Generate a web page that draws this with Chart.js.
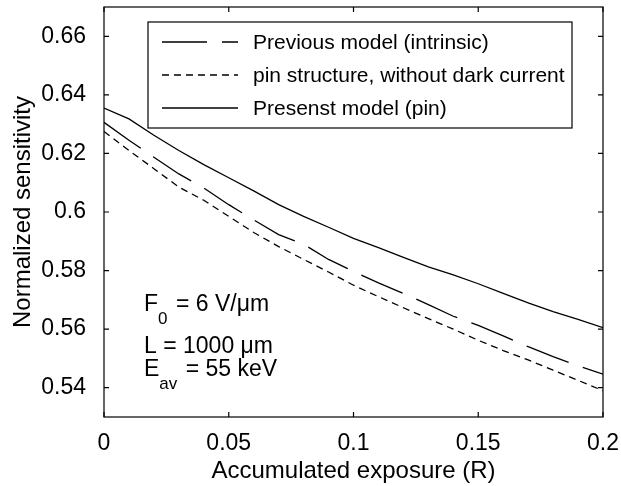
<!DOCTYPE html>
<html>
<head>
<meta charset="utf-8">
<script src="https://cdn.jsdelivr.net/npm/chart.js@4.4.0/dist/chart.umd.min.js"></script>
<style>
  html, body { margin: 0; padding: 0; background: #fff; }
  #wrap { width: 621px; height: 486px; }
</style>
</head>
<body>
<div id="wrap"><canvas id="sensCanvas" width="621" height="486"></canvas></div>
<script>
// values
const exposure = [0, 0.01, 0.02, 0.03, 0.04, 0.05, 0.06, 0.07, 0.08, 0.09, 0.10,
                  0.11, 0.12, 0.13, 0.14, 0.15, 0.16, 0.17, 0.18, 0.19, 0.20];
const previousModel = [0.6306, 0.6245, 0.6187, 0.6130, 0.6082, 0.6025, 0.5973, 0.5923, 0.5890, 0.5838, 0.5797,
                       0.5758, 0.5722, 0.5684, 0.5644, 0.5613, 0.5577, 0.5540, 0.5506, 0.5475, 0.5446];
const pinNoDark = [0.6275, 0.6210, 0.6148, 0.6085, 0.6040, 0.5985, 0.5930, 0.5882, 0.5838, 0.5795, 0.5750,
                   0.5711, 0.5673, 0.5636, 0.5600, 0.5562, 0.5527, 0.5495, 0.5460, 0.5425, 0.5390];
const presentModel = [0.6355, 0.6318, 0.6262, 0.6210, 0.6162, 0.6117, 0.6072, 0.6025, 0.5985, 0.5948, 0.5910,
                      0.5878, 0.5845, 0.5813, 0.5785, 0.5755, 0.5722, 0.5690, 0.5660, 0.5633, 0.5605];
const seriesLabels = ['Previous model (intrinsic)', 'pin structure, without dark current', 'Presenst model (pin)'];
const xTicks = [0, 0.05, 0.1, 0.15, 0.2];
const yTicks = [0.54, 0.56, 0.58, 0.6, 0.62, 0.64, 0.66];

const FONT = 'Liberation Sans, Arial, Helvetica, sans-serif';
Chart.defaults.font.family = FONT;
Chart.defaults.font.size = 23;
Chart.defaults.color = '#000';

function toPoints(ys) {
    return exposure.map((x, i) => ({ x: x, y: ys[i] }));
}

// frame, inward ticks, boxed legend and the parameter note
const matlabLook = {
    id: 'matlabLook',
    afterDatasetsDraw(chart) {
        const ctx = chart.ctx;
        const a = chart.chartArea;
        const xs = chart.scales.x, ys = chart.scales.y;
        ctx.save();
        ctx.strokeStyle = '#000';
        ctx.lineWidth = 1.2;
        ctx.setLineDash([]);
        ctx.strokeRect(a.left, a.top, a.right - a.left, a.bottom - a.top);

        ctx.beginPath();
        xTicks.forEach(v => {
            const px = xs.getPixelForValue(v);
            ctx.moveTo(px, a.bottom); ctx.lineTo(px, a.bottom - 5);
            ctx.moveTo(px, a.top); ctx.lineTo(px, a.top + 5);
        });
        yTicks.forEach(v => {
            const py = ys.getPixelForValue(v);
            ctx.moveTo(a.left, py); ctx.lineTo(a.left + 5, py);
            ctx.moveTo(a.right, py); ctx.lineTo(a.right - 5, py);
        });
        ctx.stroke();

        // legend
        const bx = 148, by = 22, bw = 424, bh = 106;
        ctx.fillStyle = '#fff';
        ctx.fillRect(bx, by, bw, bh);
        ctx.lineWidth = 1.2;
        ctx.strokeRect(bx, by, bw, bh);
        ctx.font = '21px ' + FONT;
        ctx.textBaseline = 'middle';
        ctx.fillStyle = '#000';
        chart.data.datasets.forEach((ds, i) => {
            const rowY = by + 20 + i * 33;
            ctx.beginPath();
            ctx.setLineDash(ds.borderDash || []);
            ctx.lineWidth = ds.borderWidth;
            ctx.moveTo(bx + 14, rowY);
            ctx.lineTo(bx + 90, rowY);
            ctx.stroke();
            ctx.setLineDash([]);
            ctx.fillText(ds.label, bx + 105, rowY + 1);
        });

        // parameter note
        ctx.textBaseline = 'alphabetic';
        const tx = 144;
        const lines = [
            { main: 'F', sub: '0', rest: ' = 6 V/\u03bcm', y: 311 },
            { main: 'L = 1000 \u03bcm', sub: '', rest: '', y: 353 },
            { main: 'E', sub: 'av', rest: ' = 55 keV', y: 376 }
        ];
        lines.forEach(l => {
            ctx.font = '23px ' + FONT;
            ctx.fillText(l.main, tx, l.y);
            let w = ctx.measureText(l.main).width;
            if (l.sub) {
                ctx.font = '17px ' + FONT;
                ctx.fillText(l.sub, tx + w, l.y + 13);
                w += ctx.measureText(l.sub).width + 2;
                ctx.font = '23px ' + FONT;
                ctx.fillText(l.rest, tx + w, l.y);
            }
        });
        ctx.restore();
    }
};

const ctx = document.getElementById('sensCanvas').getContext('2d');
new Chart(ctx, {
    type: 'line',
    data: {
        datasets: [{
            label: seriesLabels[0],
            data: toPoints(previousModel),
            borderColor: '#000',
            borderWidth: 1.3,
            borderDash: [45, 15]
        }, {
            label: seriesLabels[1],
            data: toPoints(pinNoDark),
            borderColor: '#000',
            borderWidth: 1.3,
            borderDash: [7, 5]
        }, {
            label: seriesLabels[2],
            data: toPoints(presentModel),
            borderColor: '#000',
            borderWidth: 1.3
        }]
    },
    options: {
        responsive: false,
        animation: false,
        events: [],
        elements: { point: { radius: 0 }, line: { tension: 0 } },
        layout: { padding: { top: 7, right: 18, left: 0, bottom: 0 } },
        plugins: {
            legend: { display: false },
            tooltip: { enabled: false }
        },
        scales: {
            x: {
                type: 'linear',
                min: 0,
                max: 0.2,
                afterBuildTicks: s => { s.ticks = xTicks.map(v => ({ value: v })); },
                afterFit: s => { s.height = 69; s.paddingLeft = 0; s.paddingRight = 0; },
                grid: { display: false },
                border: { display: false },
                ticks: { padding: 5, maxRotation: 0, callback: v => String(v) },
                title: { display: true, text: 'Accumulated exposure (R)', font: { size: 24 }, padding: { top: 2, bottom: 0 } }
            },
            y: {
                min: 0.53,
                max: 0.67,
                afterBuildTicks: s => { s.ticks = yTicks.map(v => ({ value: v })); },
                afterFit: s => { s.width = 104; s.paddingTop = 0; s.paddingBottom = 0; },
                grid: { display: false },
                border: { display: false },
                ticks: { padding: 10, callback: v => String(v) },
                title: { display: true, text: 'Normalized sensitivity', font: { size: 24 }, padding: { top: 9, bottom: 0 } }
            }
        }
    },
    plugins: [matlabLook]
});
</script>
</body>
</html>
